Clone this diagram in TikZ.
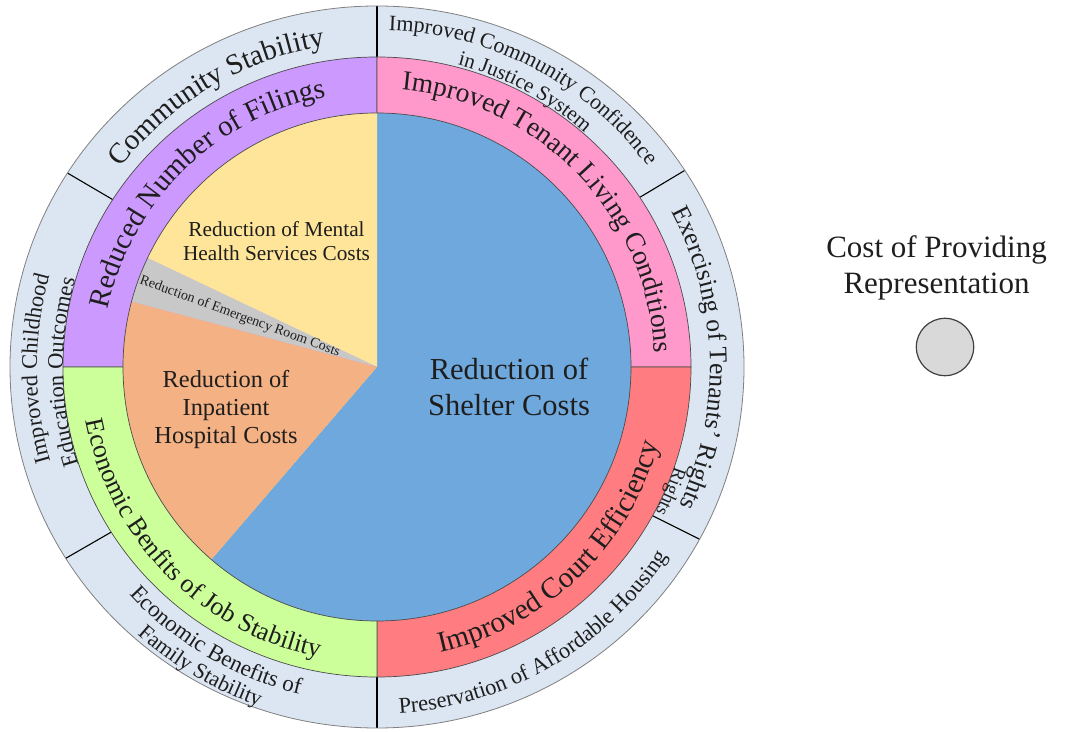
\documentclass[tikz,border=0pt]{standalone}
\usepackage{fontspec}
\setmainfont{Liberation Serif}
\usetikzlibrary{decorations.text}
\definecolor{cblue}{RGB}{111,168,220}
\definecolor{cyellow}{RGB}{255,229,153}
\definecolor{corange}{RGB}{244,177,131}
\definecolor{cgray}{RGB}{200,200,200}
\definecolor{cpurple}{RGB}{204,153,255}
\definecolor{cpink}{RGB}{255,153,204}
\definecolor{cred}{RGB}{255,124,128}
\definecolor{cgreen}{RGB}{204,255,153}
\definecolor{couter}{RGB}{220,230,242}
\definecolor{ccircle}{RGB}{217,217,217}
\definecolor{ctext}{RGB}{30,30,30}
\tikzset{
  ringline/.style={draw=black!70, line width=0.7pt},
  divider/.style={draw=black, line width=1.1pt},
  pietext/.style={text=ctext, align=center, inner sep=0pt},
}
\newcommand\arctextcw[5]{\path[decorate,decoration={text along path,text align=center,text color=ctext,text={|\fontsize{#4}{#4}\selectfont|#5}}] ({#1+#3}:#2) arc[start angle={#1+#3},end angle={#1-#3},radius=#2];}
\newcommand\arctextccw[5]{\path[decorate,decoration={text along path,text align=center,text color=ctext,text={|\fontsize{#4}{#4}\selectfont|#5}}] ({#1-#3}:#2) arc[start angle={#1-#3},end angle={#1+#3},radius=#2];}
\begin{document}
\begin{tikzpicture}[x=1pt,y=1pt]
\useasboundingbox (0,0) rectangle (1065,731);
\fill[white] (0,0) rectangle (1065,731);
\begin{scope}[shift={(377,364)}]
  % outer ring
  \fill[couter] (0,0) ellipse [x radius=367, y radius=361];
  \foreach \a in {90,147.5,212,270,331.5,33}
    \draw[divider] (\a:290) -- (\a:367 and 361);
  \draw[draw=black!50, line width=0.8pt] (0,0) ellipse [x radius=367, y radius=361];
  % middle ring
  \filldraw[ringline, fill=cpurple] (0,0) -- (180:314 and 310) arc[start angle=180, end angle=90, x radius=314, y radius=310] -- cycle;
  \filldraw[ringline, fill=cpink] (0,0) -- (90:314 and 310) arc[start angle=90, end angle=0, x radius=314, y radius=310] -- cycle;
  \filldraw[ringline, fill=cred] (0,0) -- (0:314 and 310) arc[start angle=0, end angle=-90, x radius=314, y radius=310] -- cycle;
  \filldraw[ringline, fill=cgreen] (0,0) -- (270:314 and 310) arc[start angle=270, end angle=180, x radius=314, y radius=310] -- cycle;
  % pie
  \fill[cblue] (0,0) -- (229.3:254) arc[start angle=229.3, end angle=450, radius=254] -- cycle;
  \fill[cyellow] (0,0) -- (90:254) arc[start angle=90, end angle=154.6, radius=254] -- cycle;
  \fill[cgray] (0,0) -- (154.6:254) arc[start angle=154.6, end angle=165.1, radius=254] -- cycle;
  \fill[corange] (0,0) -- (165.1:254) arc[start angle=165.1, end angle=229.3, radius=254] -- cycle;
  \draw[ringline] (0,0) circle [radius=254];
  % middle ring texts
  \arctextcw{134.3}{275}{60}{29pt}{Reduced Number of Filings}
  \arctextcw{43.9}{278}{60}{27.5pt}{Improved Tenant Living Conditions}
  \arctextccw{-46.4}{292}{60}{29.3pt}{Improved Court Efficiency}
  \arctextccw{224.6}{296}{60}{26pt}{Economic Benfits of Job Stability}
  % outer ring texts
  \arctextcw{120.7}{325}{50}{29pt}{Community Stability}
  \arctextcw{62.25}{337}{50}{22pt}{Improved Community Confidence}
  \arctextcw{61.75}{313}{50}{21pt}{in Justice System}
  \arctextcw{1.65}{333}{50}{25.5pt}{Exercising of Tenants' Rights}
  \arctextcw{-23}{314}{20}{19pt}{Rights}
  \arctextccw{-59.65}{347}{50}{22.5pt}{Preservation of Affordable Housing}
  \arctextccw{239.6}{336}{50}{23pt}{Economic Benefits of}
  \arctextccw{239.45}{359}{50}{22pt}{Family Stability}
  \arctextcw{180.25}{340}{50}{22.5pt}{Improved Childhood}
  \arctextcw{180.95}{314}{50}{22.5pt}{Education Outcomes}
  % pie texts
  \node[pietext, font=\fontsize{21.3pt}{23.5pt}\selectfont] (mental) at (-100.5,126) {Reduction of Mental\\Health Services Costs};
  \node[pietext, font=\fontsize{14pt}{15pt}\selectfont, rotate=-20.15] (emerg) at (159.85:146) {Reduction of Emergency Room Costs};
  \node[pietext, font=\fontsize{24.4pt}{28pt}\selectfont] (inpat) at (-151,-43) {Reduction of\\Inpatient\\Hospital Costs};
  \node[pietext, font=\fontsize{30.5pt}{36pt}\selectfont] (shelter) at (132,-20) {Reduction of\\Shelter Costs};
\end{scope}
\node[pietext, font=\fontsize{31pt}{36pt}\selectfont] (cost) at (936.5,463) {Cost of Providing\\Representation};
\node[circle, draw=black!75, line width=1.2pt, fill=ccircle, minimum size=57.4pt, inner sep=0pt] (costdot) at (945,384) {};
\end{tikzpicture}
\end{document}
